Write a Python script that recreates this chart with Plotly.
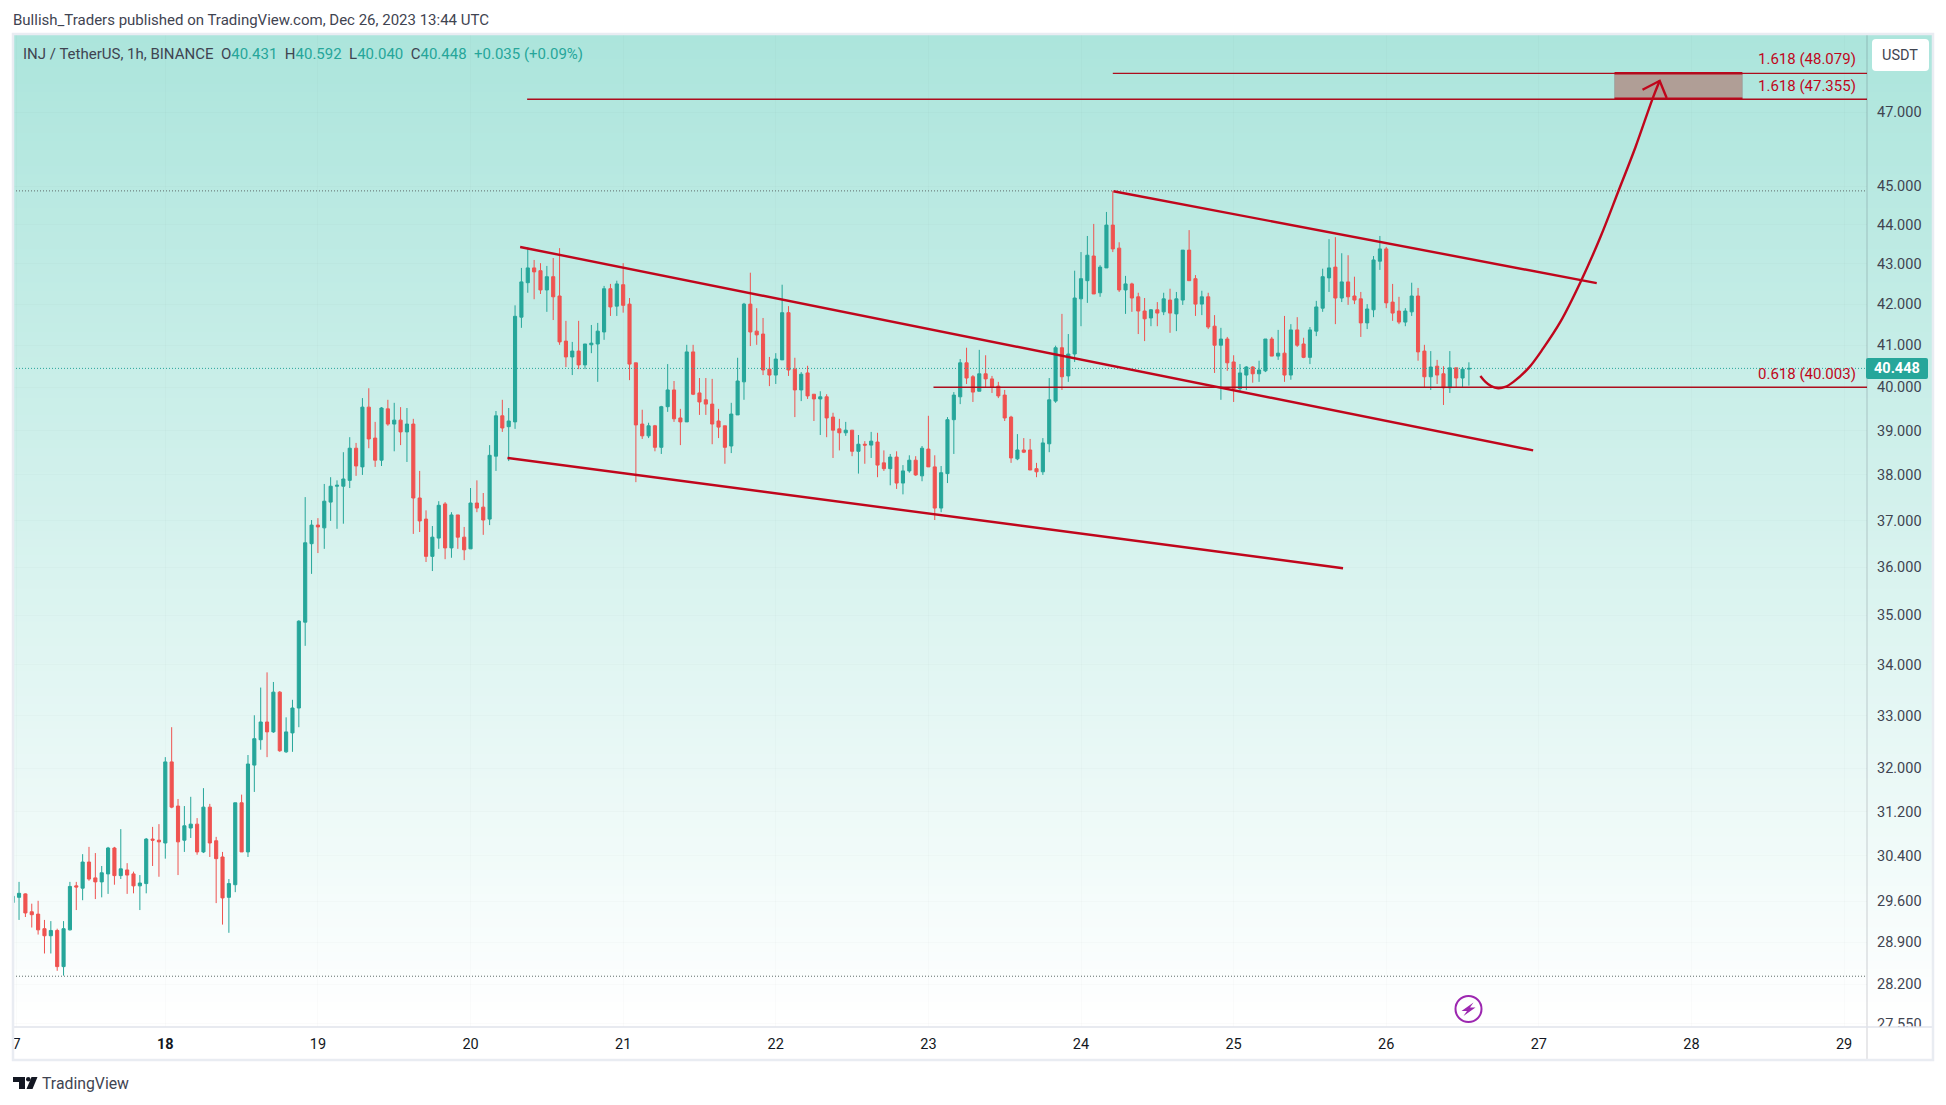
"""INJ/USDT 1h chart with drawn channels, in the TradingView look."""
import plotly.graph_objects as go

COLORS = {
    "up": "#26a69a",
    "down": "#ef5350",
    "draw": "#c0061c",
    "fib": "#ad0d1d",
    "box": "#b09e96",
    "text": "#131722",
    "muted": "#3f4451",
    "frame": "#e9ecf2",
    "axis": "rgba(42,46,57,0.14)",
    "grid": "rgba(42,46,57,0.02)",
    "dot": "#5f6b6a",
    "purple": "#9c27b0",
}
FONT = "Roboto, sans-serif"

# pixel frame of the price pane
PLOT_L, PLOT_R, PLOT_T, PLOT_B = 13, 1867, 34, 1027
OUTER_R, OUTER_B = 1933, 1060

# candles, one per hour from Dec 17 00:00
opens = [
    29.58, 29.67, 29.73, 29.42, 29.38, 29.13, 29.01, 29.10, 28.49, 29.11,
    29.87, 29.83, 30.29, 30.01, 29.94, 30.08, 30.54, 30.05, 30.15, 30.08,
    29.87, 29.91, 30.70, 30.68, 30.63, 32.12, 31.30, 30.68, 30.90, 30.97,
    30.47, 31.28, 30.67, 30.38, 29.67, 29.89, 31.36, 30.47, 32.06, 32.54,
    32.88, 32.69, 33.46, 32.31, 32.67, 33.15, 34.86, 36.50, 36.90, 36.84,
    37.40, 37.75, 37.75, 37.88, 38.60, 38.18, 39.54, 38.83, 38.33, 39.50,
    39.15, 39.24, 38.97, 39.15, 37.49, 37.03, 36.23, 36.62, 37.36, 36.41,
    37.12, 36.64, 36.39, 37.38, 37.29, 37.03, 38.42, 39.34, 39.09, 39.20,
    41.68, 42.53, 42.90, 42.83, 42.35, 42.68, 42.20, 41.10, 40.72, 40.86,
    40.53, 41.01, 41.03, 41.32, 42.38, 41.95, 42.48, 42.00, 40.58, 39.15,
    38.88, 39.11, 38.62, 39.55, 39.94, 39.29, 39.20, 40.84, 39.87, 39.71,
    39.61, 39.22, 39.11, 38.65, 39.36, 40.13, 42.00, 41.34, 41.27, 40.43,
    40.29, 40.65, 41.79, 40.43, 39.94, 40.34, 39.84, 39.73, 39.78, 39.31,
    39.04, 38.95, 39.01, 38.53, 38.69, 38.67, 38.74, 38.27, 38.14, 38.40,
    37.82, 38.09, 38.33, 37.98, 38.58, 38.18, 37.27, 38.03, 39.25, 39.78,
    40.58, 40.25, 39.91, 40.32, 40.20, 40.03, 39.82, 39.31, 38.36, 38.56,
    38.56, 38.14, 38.07, 38.70, 39.68, 40.94, 40.27, 40.79, 42.13, 42.58,
    43.20, 42.28, 42.90, 43.99, 43.40, 42.35, 42.50, 42.18, 41.83, 41.66,
    41.86, 41.81, 42.10, 41.76, 42.10, 43.35, 42.63, 42.00, 42.18, 41.46,
    41.00, 41.15, 40.60, 39.97, 40.29, 40.48, 40.32, 40.39, 41.15, 40.74,
    40.81, 40.29, 41.37, 41.03, 40.71, 41.34, 41.90, 42.65, 42.92, 42.15,
    42.55, 42.20, 42.13, 41.54, 41.86, 43.07, 43.38, 42.05, 41.83, 41.56,
    41.81, 42.20, 40.86, 40.25, 40.50, 40.32, 39.99, 40.46, 40.22, 40.431,
]
highs = [
    29.90, 29.94, 29.74, 29.56, 29.61, 29.28, 29.26, 29.13, 29.26, 29.94,
    29.94, 30.43, 30.56, 30.45, 30.22, 30.56, 30.56, 30.88, 30.27, 30.12,
    30.06, 30.72, 30.92, 30.97, 32.21, 32.78, 31.43, 31.30, 31.47, 31.08,
    31.63, 31.34, 30.74, 30.47, 29.99, 31.36, 31.51, 32.25, 33.01, 33.55,
    33.85, 33.66, 33.48, 32.97, 33.31, 34.90, 37.51, 37.01, 37.05, 37.80,
    37.95, 37.88, 38.51, 38.85, 38.72, 39.75, 39.98, 39.20, 39.54, 39.71,
    39.64, 39.54, 39.52, 39.27, 38.09, 37.22, 36.88, 37.42, 37.40, 37.18,
    37.12, 36.86, 37.71, 37.88, 37.60, 38.67, 39.45, 39.71, 39.52, 41.97,
    42.90, 43.42, 43.10, 43.02, 42.95, 43.15, 43.40, 41.59, 41.08, 41.59,
    41.03, 41.49, 41.54, 42.45, 42.50, 42.58, 43.02, 42.15, 40.58, 39.48,
    39.18, 39.13, 39.57, 40.55, 40.15, 39.50, 41.01, 41.01, 40.22, 40.22,
    40.20, 39.50, 39.11, 39.64, 40.70, 42.03, 42.78, 41.90, 41.66, 40.72,
    40.81, 42.48, 41.95, 40.70, 40.36, 40.51, 39.84, 39.91, 39.84, 39.41,
    39.27, 39.20, 39.01, 38.90, 38.76, 38.97, 38.95, 38.55, 38.47, 38.53,
    38.22, 38.44, 38.42, 38.65, 39.34, 38.44, 38.20, 39.31, 39.89, 40.67,
    40.94, 40.29, 40.89, 40.76, 40.27, 40.13, 39.94, 39.34, 38.92, 38.83,
    38.81, 38.27, 38.83, 40.22, 40.99, 41.76, 41.27, 42.83, 43.30, 43.71,
    44.02, 42.97, 44.33, 44.88, 43.55, 42.70, 42.53, 42.28, 42.15, 41.88,
    42.05, 42.28, 42.38, 42.30, 43.35, 43.86, 42.72, 42.33, 42.28, 41.73,
    41.42, 41.20, 40.76, 40.55, 40.50, 40.50, 40.63, 41.15, 41.20, 41.37,
    41.71, 41.51, 41.68, 41.18, 41.44, 42.08, 42.88, 43.63, 43.68, 43.27,
    43.22, 42.68, 42.30, 42.00, 43.20, 43.71, 43.43, 42.50, 42.18, 41.90,
    42.53, 42.40, 41.01, 40.86, 40.65, 40.50, 40.86, 40.46, 40.48, 40.592,
]
lows = [
    29.54, 29.28, 29.33, 29.15, 29.03, 28.71, 28.71, 28.42, 28.34, 29.10,
    29.45, 29.62, 29.96, 29.64, 29.67, 29.73, 29.89, 29.99, 29.73, 29.74,
    29.45, 29.74, 30.22, 30.03, 30.35, 31.26, 30.06, 30.47, 30.72, 30.42,
    30.45, 30.38, 29.57, 29.20, 29.06, 29.76, 30.47, 30.38, 31.56, 32.35,
    32.21, 32.67, 32.31, 32.29, 32.31, 32.78, 34.38, 35.86, 36.30, 36.39,
    36.99, 36.82, 36.93, 37.71, 37.98, 38.00, 38.60, 38.18, 38.20, 39.11,
    38.53, 38.67, 38.29, 36.71, 36.75, 36.11, 35.92, 36.39, 36.17, 36.20,
    36.39, 36.15, 36.39, 37.18, 36.69, 36.90, 38.09, 38.97, 38.31, 39.04,
    41.42, 42.28, 42.12, 42.25, 41.81, 41.61, 41.01, 40.48, 40.29, 40.43,
    40.43, 40.81, 40.13, 41.13, 41.71, 41.71, 41.79, 40.17, 37.84, 38.81,
    38.83, 38.53, 38.47, 39.43, 39.20, 38.67, 39.20, 39.82, 39.36, 39.36,
    38.69, 38.83, 38.25, 38.49, 39.36, 39.71, 40.98, 41.01, 40.29, 40.03,
    40.08, 40.65, 40.27, 39.31, 39.68, 39.73, 39.22, 38.90, 38.85, 38.38,
    38.55, 38.88, 38.42, 38.03, 38.25, 38.38, 37.95, 38.09, 37.77, 37.69,
    37.57, 38.05, 37.98, 37.86, 38.18, 37.01, 37.18, 37.82, 38.47, 39.61,
    40.08, 39.66, 39.91, 40.01, 39.87, 39.75, 39.22, 38.27, 38.33, 38.49,
    38.11, 37.95, 38.00, 38.51, 39.64, 39.94, 40.13, 40.60, 41.46, 42.03,
    42.25, 42.18, 42.90, 43.30, 42.30, 41.76, 41.81, 41.27, 41.10, 41.46,
    41.46, 41.73, 41.30, 41.34, 41.98, 42.58, 41.71, 41.73, 41.39, 40.34,
    39.71, 40.39, 39.66, 39.91, 39.94, 40.11, 40.13, 40.36, 40.74, 40.65,
    40.13, 40.18, 40.96, 40.69, 40.55, 41.22, 41.81, 42.30, 41.51, 42.05,
    41.98, 42.00, 41.20, 41.39, 41.68, 42.85, 41.90, 41.59, 41.51, 41.46,
    41.71, 40.63, 39.99, 39.94, 40.08, 39.59, 39.87, 39.99, 40.01, 40.040,
]
closes = [
    29.69, 29.74, 29.40, 29.37, 29.11, 29.01, 29.10, 28.49, 29.13, 29.86,
    29.85, 30.29, 29.99, 29.94, 30.10, 30.54, 30.05, 30.17, 30.06, 29.87,
    29.92, 30.70, 30.68, 30.65, 32.12, 31.28, 30.65, 30.94, 30.97, 30.47,
    31.28, 30.63, 30.35, 29.66, 29.91, 31.36, 30.47, 32.08, 32.56, 32.88,
    32.69, 33.46, 32.33, 32.69, 33.15, 34.88, 36.52, 36.90, 36.86, 37.42,
    37.75, 37.77, 37.91, 38.60, 38.20, 39.54, 38.81, 38.33, 39.52, 39.15,
    39.24, 38.97, 39.15, 37.49, 36.99, 36.23, 36.64, 37.33, 36.41, 37.12,
    36.64, 36.37, 37.38, 37.27, 37.01, 38.44, 39.34, 39.06, 39.22, 41.70,
    42.55, 42.90, 42.80, 42.35, 42.68, 42.18, 41.08, 40.72, 40.86, 40.53,
    41.03, 41.05, 41.34, 42.38, 41.93, 42.50, 41.97, 40.55, 39.13, 38.88,
    39.11, 38.62, 39.55, 39.94, 39.27, 39.20, 40.84, 39.84, 39.66, 39.61,
    39.15, 39.08, 38.62, 39.38, 40.15, 42.00, 41.32, 41.25, 40.41, 40.29,
    40.67, 41.79, 40.41, 39.94, 40.31, 39.80, 39.73, 39.78, 39.29, 39.01,
    38.95, 39.01, 38.53, 38.69, 38.67, 38.76, 38.22, 38.14, 38.40, 37.82,
    38.09, 38.33, 38.00, 38.60, 38.18, 37.27, 38.05, 39.25, 39.82, 40.58,
    40.22, 39.89, 40.32, 40.20, 40.01, 39.80, 39.29, 38.38, 38.56, 38.51,
    38.11, 38.07, 38.72, 39.71, 40.94, 40.25, 40.79, 42.15, 42.63, 43.22,
    42.25, 42.92, 43.99, 43.38, 42.35, 42.50, 42.15, 41.83, 41.64, 41.86,
    41.78, 42.13, 41.78, 42.13, 43.35, 42.58, 42.00, 42.18, 41.44, 41.00,
    41.15, 40.58, 39.97, 40.34, 40.48, 40.32, 40.41, 41.15, 40.74, 40.81,
    40.29, 41.37, 41.00, 40.71, 41.37, 41.93, 42.68, 42.90, 42.15, 42.55,
    42.18, 42.10, 41.54, 41.88, 43.10, 43.38, 42.03, 41.78, 41.56, 41.83,
    42.20, 40.84, 40.25, 40.48, 40.29, 39.99, 40.46, 40.22, 40.43, 40.448,
]
hours = list(range(len(closes)))

# axes
x_range = [0.05, 291.6]
y_range = [1.43933, 1.69197]  # log10 of 27.50 and 49.20
price_ticks = [47, 45, 44, 43, 42, 41, 40, 39, 38, 37, 36, 35, 34, 33, 32,
               31.2, 30.4, 29.6, 28.9, 28.2, 27.55]
day_ticks = [0.6, 24, 48, 72, 96, 120, 144, 168, 192, 216, 240, 264, 288]
day_labels = ["7", "<b>18</b>", "19", "20", "21", "22", "23", "24", "25", "26",
              "27", "28", "29"]

# drawn lines as (hour, price)
channel_a_upper_h, channel_a_upper_p = [79.8, 239.1], [43.43, 38.55]
channel_a_lower_h, channel_a_lower_p = [77.8, 209.2], [38.38, 35.98]
channel_b_upper_h, channel_b_upper_p = [173.1, 249.1], [44.87, 42.52]
fib_top_h, fib_top_p = [173.0, 291.6], [48.079, 48.079]
fib_mid_h, fib_mid_p = [80.9, 291.6], [47.355, 47.355]
fib_low_h, fib_low_p = [144.8, 291.6], [40.003, 40.003]
box_h = [251.9, 272.0, 272.0, 251.9, 251.9]
box_p = [48.079, 48.079, 47.355, 47.355, 48.079]
box_top_h, box_top_p = [251.9, 272.0], [48.079, 48.079]
box_bottom_h, box_bottom_p = [251.9, 272.0], [47.37, 47.37]
curve_h = [230.8, 231.6, 232.5, 233.6, 234.7, 236.0, 238.4, 240.7, 243.4,
           246.5, 249.7, 252.5, 255.2, 257.9, 259.0]
curve_p = [40.27, 40.13, 40.03, 39.98, 40.01, 40.13, 40.46, 40.93, 41.57,
           42.53, 43.69, 44.87, 46.05, 47.38, 47.87]
head_h, head_p = [256.3, 259.0, 260.1], [47.62, 47.87, 47.39]

high_level, low_level, last_close = 44.88, 28.33, 40.448


def px(x):
    return (x - PLOT_L) / (PLOT_R - PLOT_L)


def py(y):
    return 1 - (y - PLOT_T) / (PLOT_B - PLOT_T)


def round_rect(x0, y0, x1, y1, r):
    """SVG path of a rounded box, given in page pixels."""
    return (
        f"M{px(x0 + r)},{py(y0)} L{px(x1 - r)},{py(y0)} Q{px(x1)},{py(y0)} {px(x1)},{py(y0 + r)} "
        f"L{px(x1)},{py(y1 - r)} Q{px(x1)},{py(y1)} {px(x1 - r)},{py(y1)} "
        f"L{px(x0 + r)},{py(y1)} Q{px(x0)},{py(y1)} {px(x0)},{py(y1 - r)} "
        f"L{px(x0)},{py(y0 + r)} Q{px(x0)},{py(y0)} {px(x0 + r)},{py(y0)} Z"
    )


def polygon(points):
    return "M" + " L".join(f"{px(x)},{py(y)}" for x, y in points) + " Z"


def paper_shape(**kwargs):
    return dict(xref="paper", yref="paper", **kwargs)


def line_trace(h, p, width=2, color=COLORS["draw"], dash=None, shape="linear", **kwargs):
    return go.Scatter(
        x=h, y=p, mode="lines", hoverinfo="skip", showlegend=False,
        line=dict(color=color, width=width, dash=dash, shape=shape), **kwargs,
    )


fig = go.Figure()
fig.add_trace(line_trace(x_range, [high_level] * 2, 1, COLORS["dot"], "1px,2px"))
fig.add_trace(line_trace(x_range, [low_level] * 2, 1, COLORS["dot"], "1px,2px"))
fig.add_trace(line_trace(x_range, [last_close] * 2, 1, COLORS["up"], "1px,2px"))
fig.add_trace(go.Candlestick(
    x=hours, open=opens, high=highs, low=lows, close=closes,
    increasing=dict(line=dict(color=COLORS["up"], width=1), fillcolor=COLORS["up"]),
    decreasing=dict(line=dict(color=COLORS["down"], width=1), fillcolor=COLORS["down"]),
    whiskerwidth=0, showlegend=False, hoverinfo="skip",
))
fig.add_trace(line_trace(box_h, box_p, 1, "rgba(150,150,150,0.5)", fill="toself", fillcolor=COLORS["box"]))
fig.add_trace(line_trace(box_top_h, box_top_p, 2.5))
fig.add_trace(line_trace(box_bottom_h, box_bottom_p, 2.5))
for h, p in [(fib_top_h, fib_top_p), (fib_mid_h, fib_mid_p), (fib_low_h, fib_low_p)]:
    fig.add_trace(line_trace(h, p, 1.3, COLORS["fib"]))
for h, p in [(channel_a_upper_h, channel_a_upper_p), (channel_a_lower_h, channel_a_lower_p),
             (channel_b_upper_h, channel_b_upper_p)]:
    fig.add_trace(line_trace(h, p, 2.4))
fig.add_trace(line_trace(curve_h, curve_p, 2.4, shape="spline"))
fig.add_trace(line_trace(head_h, head_p, 2.4))

# vertical background fade, each band runs to the bottom so no seams show
BANDS = 120
shapes = []
for i in range(BANDS):
    t = i / (BANDS - 1)
    color = f"rgb({172 + 83 * t:.0f},{229 + 26 * t:.0f},{220 + 35 * t:.0f})"
    y0 = PLOT_T + (PLOT_B - PLOT_T) * i / BANDS
    shapes.append(paper_shape(
        type="rect", layer="below", x0=px(PLOT_L), x1=px(OUTER_R), y0=py(y0), y1=py(PLOT_B),
        fillcolor=color, line=dict(width=0),
    ))

shapes += [
    # hides the lower half of the clipped 27.550 label
    paper_shape(type="rect", layer="above", x0=px(PLOT_R + 1), x1=px(OUTER_R - 1),
                y0=py(PLOT_B), y1=py(OUTER_B - 1), fillcolor="white", line=dict(width=0)),
    paper_shape(type="line", layer="above", x0=px(PLOT_R), x1=px(PLOT_R), y0=py(PLOT_T), y1=py(OUTER_B),
                line=dict(color=COLORS["axis"], width=1.5)),
    paper_shape(type="line", layer="above", x0=px(PLOT_L), x1=px(OUTER_R), y0=py(PLOT_B), y1=py(PLOT_B),
                line=dict(color="#e0e3eb", width=1.5)),
    paper_shape(type="rect", layer="above", x0=px(PLOT_L), x1=px(OUTER_R), y0=py(PLOT_T), y1=py(OUTER_B),
                line=dict(color=COLORS["frame"], width=2.5)),
    paper_shape(type="path", layer="above", path=round_rect(1872, 39, 1929, 71, 4),
                fillcolor="white", line=dict(width=0)),
    paper_shape(type="path", layer="above", path=round_rect(1866, 358, 1928, 379, 2),
                fillcolor=COLORS["up"], line=dict(width=0)),
    # lightning icon
    paper_shape(type="circle", layer="above", x0=px(1455.5), x1=px(1481.5), y0=py(996), y1=py(1022),
                line=dict(color=COLORS["purple"], width=2)),
    paper_shape(type="path", layer="above", fillcolor=COLORS["purple"], line=dict(width=0),
                path=polygon([(1473.5, 1002.5), (1461.5, 1011), (1467, 1011), (1463.5, 1016), (1475.5, 1007.5), (1470, 1007.5)])),
    # TradingView mark
    paper_shape(type="path", layer="above", fillcolor=COLORS["text"], line=dict(width=0),
                path=polygon([(13, 1077), (25, 1077), (25, 1089), (19, 1089), (19, 1082), (13, 1082)])),
    paper_shape(type="circle", layer="above", fillcolor=COLORS["text"], line=dict(width=0),
                x0=px(26), x1=px(30.5), y0=py(1077), y1=py(1081.5)),
    paper_shape(type="path", layer="above", fillcolor=COLORS["text"], line=dict(width=0),
                path=polygon([(31.5, 1077), (37.5, 1077), (32.5, 1089), (26.5, 1089)])),
]


def label(x, y, text, color=COLORS["text"], size=14, anchor="left", **kwargs):
    return dict(xref="paper", yref="paper", x=px(x), y=py(y), text=text, showarrow=False,
                xanchor=anchor, yanchor="middle", font=dict(family=FONT, size=size, color=color), **kwargs)


def ohlc(tag, value):
    return f'{tag}<span style="color:{COLORS["up"]}">{value}</span>'


legend_text = "\u00a0\u00a0".join([
    "INJ / TetherUS, 1h, BINANCE",
    ohlc("O", "40.431"), ohlc("H", "40.592"), ohlc("L", "40.040"), ohlc("C", "40.448"),
    f'<span style="color:{COLORS["up"]}">+0.035 (+0.09%)</span>',
])

annotations = [
    label(11, 19.5, "Bullish_Traders published on TradingView.com, Dec 26, 2023 13:44 UTC", COLORS["muted"], 15),
    label(21, 54, legend_text, COLORS["muted"], 15),
    label(1858, 59.5, "1.618 (48.079)", COLORS["draw"], 15, "right"),
    label(1858, 85.5, "1.618 (47.355)", COLORS["draw"], 15, "right"),
    label(1858, 374, "0.618 (40.003)", COLORS["draw"], 15, "right"),
    label(1899.5, 55, "USDT", COLORS["muted"], 14.5, "center"),
    label(1897, 368.5, "<b>40.448</b>", "white", 14.5, "center"),
    label(40, 1083, "TradingView", COLORS["muted"], 15.8),
]

fig.update_layout(
    width=1946,
    height=1105,
    margin=dict(l=PLOT_L, r=1946 - PLOT_R, t=PLOT_T, b=1105 - PLOT_B, pad=0),
    font=dict(family=FONT, size=14, color=COLORS["text"]),
    paper_bgcolor="white",
    plot_bgcolor="rgba(0,0,0,0)",
    showlegend=False,
    boxgap=0.3,
    shapes=shapes,
    annotations=annotations,
    xaxis=dict(
        range=x_range, tickmode="array", tickvals=day_ticks, ticktext=day_labels,
        showgrid=True, gridcolor=COLORS["grid"], zeroline=False, showline=False,
        ticks="", ticklabelstandoff=6, tickfont=dict(size=14.5, color=COLORS["text"]),
        rangeslider=dict(visible=False),
    ),
    yaxis=dict(
        type="log", range=y_range, side="right", tickmode="array", tickvals=price_ticks,
        ticktext=[f"{v:.3f}" for v in price_ticks],
        showgrid=True, gridcolor=COLORS["grid"], zeroline=False, showline=False,
        ticks="", ticklabelstandoff=9, tickfont=dict(size=14.5, color=COLORS["muted"]),
    ),
)

fig.write_html("out.html", config=dict(displayModeBar=False),
               post_script="document.body.style.margin='0';document.body.style.overflow='hidden';")
